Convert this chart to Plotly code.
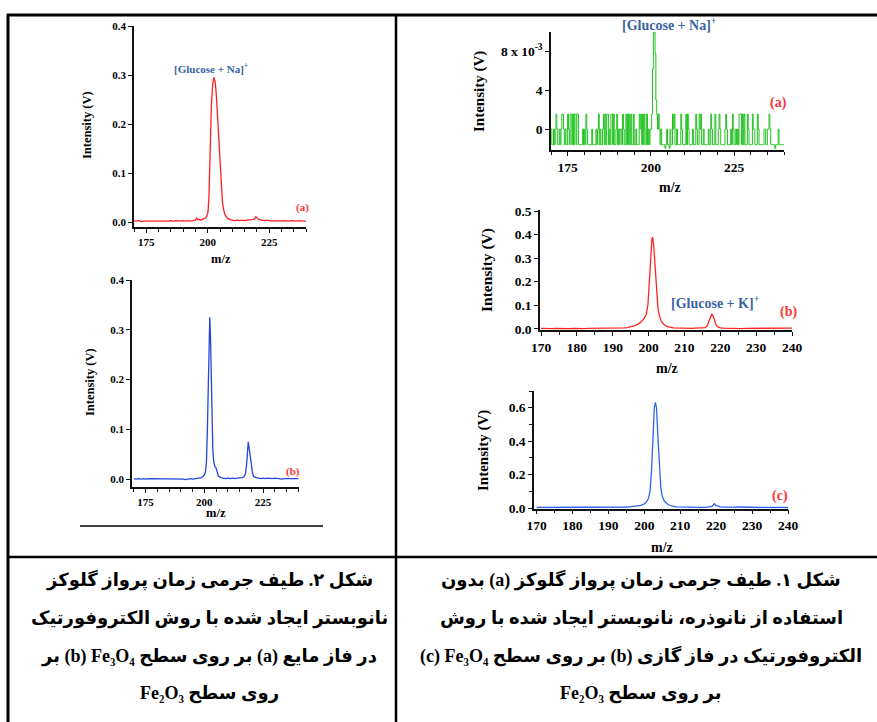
import plotly.graph_objects as go

W, H = 877, 722

# ---------------- data ----------------
# Fig.2 (a) left, red
mz_la = [170, 171, 172, 173, 174, 175, 176, 177, 178, 179, 180, 181, 182, 183, 184, 185, 186, 187, 188, 189,
         190, 191, 192, 193, 194, 195,
         195.5, 196, 196.5, 197, 198, 199,
         199.6, 200.1, 200.5, 201.0, 201.5, 202.0, 202.5, 202.8, 203.0, 203.5, 204.0, 204.5, 205.0, 205.5,
         206.0, 206.5, 207.0, 208.0, 209.0,
         210, 211, 212, 213, 214, 215, 216, 217, 218, 219,
         219.6, 220, 220.5,
         221, 222, 223, 224, 225, 226, 227, 228, 229, 230, 231, 232, 233, 234, 235, 236, 237, 238, 239, 240]
int_la = [0.003, 0.002, 0.003, 0.001, 0.002, 0.002, 0.001, 0.002, 0.001, 0.002, 0.001, 0.002, 0.002, 0.001,
          0.002, 0.003, 0.002, 0.003, 0.002, 0.002, 0.003, 0.002, 0.003, 0.002, 0.003, 0.004,
          0.008, 0.005, 0.006, 0.004, 0.006, 0.008,
          0.012, 0.02, 0.05, 0.15, 0.24, 0.28, 0.295, 0.29, 0.288, 0.26, 0.21, 0.165, 0.12, 0.07,
          0.04, 0.025, 0.015, 0.008, 0.005,
          0.004, 0.003, 0.004, 0.003, 0.004, 0.003, 0.004, 0.004, 0.005, 0.006,
          0.011, 0.009, 0.006,
          0.005, 0.004, 0.003, 0.004, 0.003, 0.002, 0.003, 0.002, 0.003, 0.002, 0.003, 0.002, 0.002, 0.003,
          0.002, 0.002, 0.003, 0.002, 0.002, 0.002]

# Fig.2 (b) left, blue
mz_lb = [170, 171, 172, 173, 174, 175, 176, 177, 178, 179, 180, 181, 182, 183, 184, 185, 186, 187, 188, 189,
         190, 191, 192, 193, 194, 195, 196, 197, 198,
         198.8, 199.5, 200.0, 200.5, 200.9, 201.3, 201.7, 202.0, 202.3, 202.6, 202.9, 203.2, 203.6, 204.0,
         204.5, 205.0, 205.5, 206.0, 207.0, 208.0,
         209, 210, 211, 212, 213, 214, 215, 216,
         216.8, 217.5, 218.0, 218.4, 218.7, 219.0, 219.3, 219.6, 220.0, 220.5, 221.0,
         222, 223, 224, 225, 226, 227, 228, 229, 230, 231, 232, 233, 234, 235, 236, 237, 238, 239, 240]
int_lb = [0.001, 0.0, 0.001, 0.0, 0.001, 0.0, 0.001, 0.001, 0.0, 0.001, 0.0, 0.001, 0.0, 0.0, 0.001, 0.0,
          0.001, 0.0, 0.001, 0.0, 0.001, 0.0, -0.001, 0.0, 0.001, 0.0, 0.001, 0.002, 0.002,
          0.003, 0.006, 0.008, 0.015, 0.035, 0.1, 0.2, 0.28, 0.325, 0.29, 0.2, 0.12, 0.06, 0.035,
          0.025, 0.022, 0.015, 0.006, 0.003, 0.002,
          0.001, 0.002, 0.001, 0.002, 0.001, 0.002, 0.002, 0.003,
          0.004, 0.01, 0.03, 0.065, 0.075, 0.065, 0.05, 0.048, 0.03, 0.012, 0.005,
          0.003, 0.002, 0.001, 0.002, 0.001, 0.002, 0.001, 0.001, 0.002, 0.001, 0.001, 0.0, 0.001, 0.001,
          0.0, 0.001, 0.0, 0.001, 0.001]

# Fig.1 (a) right, green: digitised levels, one code per 0.25 m/z from 170 (units of 1e-3 V)
green_start, green_step = 170.0, 0.25
green_codes = ("0dd0" "d0u0" "dd0d" "0uu0" "d0dd" "u0du" "udud" "uudu" "uddd" "dd0d"
               "0du0" "dddd" "d0dd" "dd0d" "0ud0" "dd0u" "dudu" "ud0d" "uudu" "dd0u"
               "d0d0" "0du0" "ddud" "udud" "uddu" "dd0d" "ddu0" "udud" "u0du" "d0d0"
               "0upp" "pppp" "0u0d" "0ddd" "dDd0" "ddD0" "ddu0" "udd0" "dddd" "u0dd"
               "ddud" "u0dd" "dd0d" "ddu0" "ddu0" "udd0" "dddd" "d0dd" "u0dd" "dudd"
               "d0u0" "dddd" "d0u0" "dddd" "0du0" "dd0d" "0duu" "udud" "uddd" "u0dd"
               "ddu0" "0ddd" "u0dd" "dddd" "00dd" "00u0" "dddd" "dDdd" "d0dd" "dddd"
               "d")
green_levels = {"0": 0.0, "u": 1.55, "d": -1.6, "D": -2.0}
green_peak = [6.2, 10.0, 10.0, 7.8, 3.0, 1.5]

# Fig.1 (b) right, red
mz_rb = [170, 171, 172, 173, 174, 175, 176, 177, 178, 179, 180, 181, 182, 183, 184, 185, 186, 187, 188, 189,
         190, 191, 192, 193,
         194, 195, 196, 197, 198, 198.8, 199.3, 199.8, 200.2, 200.6, 200.9, 201.1, 201.4, 201.8, 202.2, 202.6,
         203.0, 203.6, 204.5, 205.5, 207.0,
         208, 209, 210, 211, 212, 213, 214, 215,
         215.8, 216.3, 216.8, 217.2, 217.6, 218.0, 218.4, 218.8, 219.3, 220.0, 221.0,
         222, 223, 224, 225, 226, 227, 228, 229, 230, 231, 232, 233, 234, 235, 236, 237, 238, 239, 240]
int_rb = [0.002, 0.001, 0.002, 0.001, 0.002, 0.001, 0.002, 0.002, 0.001, 0.002, 0.001, 0.002, 0.001, 0.002,
          0.002, 0.001, 0.002, 0.002, 0.003, 0.002, 0.003, 0.003, 0.004, 0.004,
          0.005, 0.008, 0.012, 0.02, 0.03, 0.045, 0.06, 0.1, 0.18, 0.3, 0.38, 0.39, 0.36, 0.26, 0.16, 0.09,
          0.055, 0.03, 0.015, 0.008, 0.004,
          0.003, 0.003, 0.002, 0.003, 0.002, 0.003, 0.003, 0.004,
          0.005, 0.012, 0.03, 0.05, 0.062, 0.055, 0.035, 0.018, 0.008, 0.004, 0.003,
          0.002, 0.003, 0.002, 0.002, 0.001, 0.002, 0.002, 0.001, 0.002, 0.001, 0.002, 0.002, 0.001, 0.002,
          0.001, 0.002, 0.001, 0.002, 0.003]

# Fig.1 (c) right, blue
mz_rc = [170, 171, 172, 173, 174, 175, 176, 177, 178, 179, 180, 181, 182, 183, 184, 185, 186, 187, 188, 189,
         190, 191, 192, 193, 194,
         195, 196, 197, 198, 199, 200, 200.6, 201.1, 201.6, 202.0, 202.4, 202.8, 203.1, 203.4, 203.8, 204.2,
         204.6, 205.0, 205.6, 206.5, 207.5, 209.0,
         210, 211, 212, 213, 214, 215, 216, 217,
         218.0, 218.8, 219.2, 219.5, 219.9, 220.5, 221.2,
         222, 223, 224, 225, 226, 227, 228, 229, 230, 231, 232, 233, 234, 235, 236, 237, 238, 239, 240]
int_rc = [0.003, 0.003, 0.002, 0.003, 0.002, 0.003, 0.003, 0.002, 0.003, 0.003, 0.002, 0.003, 0.003, 0.003,
          0.004, 0.005, 0.004, 0.003, 0.003, 0.004, 0.003, 0.004, 0.004, 0.005, 0.005,
          0.006, 0.007, 0.009, 0.012, 0.016, 0.025, 0.035, 0.055, 0.1, 0.22, 0.42, 0.6, 0.632, 0.6, 0.42, 0.24,
          0.12, 0.07, 0.04, 0.022, 0.012, 0.007,
          0.006, 0.005, 0.004, 0.004, 0.004, 0.003, 0.004, 0.004,
          0.005, 0.01, 0.018, 0.025, 0.016, 0.01, 0.007,
          0.005, 0.004, 0.004, 0.005, 0.006, 0.005, 0.004, 0.004, 0.003, 0.004, 0.003, 0.003, 0.004, 0.003,
          0.003, 0.003, 0.002, 0.003, 0.003]

# captions (logical order, Persian)
caption_right = ["شکل ۱. طیف جرمی زمان پرواز گلوکز (a) بدون",
                 "استفاده از نانوذره، نانوبستر ایجاد شده با روش",
                 "الکتروفورتیک در فاز گازی (b) بر روی سطح Fe₃O₄\u200f (c)\u200f",
                 "بر روی سطح Fe₂O₃"]
caption_left = ["شکل ۲. طیف جرمی زمان پرواز گلوکز",
                "نانوبستر ایجاد شده با روش الکتروفورتیک",
                "در فاز مایع (a) بر روی سطح Fe₃O₄\u200f (b) بر",
                "روی سطح Fe₂O₃"]

# ---------------- decode green ----------------
mz_ra, int_ra = [], []
pk = iter(green_peak)
for i, c in enumerate(green_codes):
    mz_ra.append(green_start + green_step * i)
    int_ra.append(next(pk) if c == "p" else green_levels[c])

# ---------------- helpers ----------------
def px(x):
    return x / W

def py(y):
    return 1 - y / H

SERIF = "Liberation Serif"

def bold(size, color="black", family=SERIF):
    return dict(family=family, size=size, color=color, weight="bold")

fig = go.Figure()

panels = [
    dict(xd=(134, 306), yd=(26, 227), xr=[170, 240], yr=[-0.01, 0.4], x=mz_la, y=int_la, col="#ff1f1f",
         xdt=25, xminor=5, ydt=0.1, yminor=None, tfs=11, shape="linear", lw=1.3),
    dict(xd=(132, 299), yd=(280, 487), xr=[169.2, 240.3], yr=[-0.016, 0.4], x=mz_lb, y=int_lb, col="#2346dc",
         xdt=25, xminor=5, ydt=0.1, yminor=None, tfs=11, shape="linear", lw=1.3),
    dict(xd=(551, 784), yd=(32, 150), xr=[170, 240], yr=[-2.15, 10], x=mz_ra, y=int_ra, col="#22c322",
         xdt=25, xminor=5, ydt=None, yminor=None, tfs=13.5, shape="hv", lw=1.0),
    dict(xd=(540, 792), yd=(210, 330), xr=[169.7, 240], yr=[-0.005, 0.505], x=mz_rb, y=int_rb, col="#ff2424",
         xdt=10, xminor=5, ydt=0.1, yminor=None, tfs=13.5, shape="linear", lw=1.3),
    dict(xd=(534, 788), yd=(391, 508.5), xr=[169.3, 240], yr=[-0.003, 0.7], x=mz_rc, y=int_rc, col="#3163f5",
         xdt=10, xminor=5, ydt=0.2, yminor=0.1, tfs=13.5, shape="linear", lw=1.3),
]

layout_axes = {}
for i, p in enumerate(panels, start=1):
    sx = "" if i == 1 else str(i)
    fig.add_trace(go.Scatter(x=p["x"], y=p["y"], mode="lines", line=dict(color=p["col"], width=p["lw"], shape=p["shape"]),
                             xaxis="x" + sx, yaxis="y" + sx, showlegend=False, hoverinfo="skip"))
    xa = dict(domain=[px(p["xd"][0]), px(p["xd"][1])], range=p["xr"], anchor="y" + sx, automargin=False,
              showline=True, linecolor="#111", linewidth=1.5, ticks="outside", ticklen=4, tickwidth=1.3,
              tickcolor="#111", showgrid=False, zeroline=False, dtick=p["xdt"], tick0=0,
              tickfont=bold(p["tfs"]), fixedrange=True,
              minor=dict(dtick=p["xminor"], tick0=0, ticks="outside", ticklen=3, tickwidth=1.1, tickcolor="#111",
                         showgrid=False))
    ya = dict(domain=[py(p["yd"][1]), py(p["yd"][0])], range=p["yr"], anchor="x" + sx, automargin=False,
              showline=True, linecolor="#111", linewidth=1.5, ticks="outside", ticklen=4, tickwidth=1.3,
              tickcolor="#111", showgrid=False, zeroline=False, tickfont=bold(p["tfs"]), fixedrange=True)
    if p["ydt"] is not None:
        ya.update(dtick=p["ydt"], tick0=0, tickformat=".1f")
    else:
        ya.update(tickmode="array", tickvals=[0, 4, 8], ticktext=["0", "4", "8 x 10<sup>-3</sup>"])
    if p["yminor"]:
        ya["minor"] = dict(dtick=p["yminor"], tick0=0, ticks="outside", ticklen=3, tickwidth=1.1,
                           tickcolor="#111", showgrid=False)
    layout_axes["xaxis" + sx] = xa
    layout_axes["yaxis" + sx] = ya

fig.update_layout(template="none")
fig.update_layout(**layout_axes)

ann = []
def text(x, y, s, size, color="black", angle=0, family=SERIF):
    ann.append(dict(x=px(x), y=py(y), xref="paper", yref="paper", text=s, showarrow=False,
                    xanchor="center", yanchor="middle", textangle=angle, font=bold(size, color, family)))

# axis titles
text(87, 125, "Intensity (V)", 12.5, angle=-90)
text(221, 259, "m/z", 12.5)
text(90, 382, "Intensity (V)", 12.5, angle=-90)
text(216, 513, "m/z", 12.5)
text(479, 91, "Intensity (V)", 15, angle=-90)
text(670, 188, "m/z", 14)
text(487, 270, "Intensity (V)", 15.5, angle=-90)
text(667, 368, "m/z", 14)
text(483, 451, "Intensity (V)", 15, angle=-90)
text(662, 547, "m/z", 14)

# in-plot labels
BL = "#3b64a0"
RD = "#ff3333"
text(211, 68, "[Glucose + Na]<sup>+</sup>", 11, BL)
text(302, 207, "(a)", 11, RD)
text(293, 471, "(b)", 11, RD)
text(669, 24, "[Glucose + Na]<sup>+</sup>", 14, BL)
text(778, 103, "(a)", 14, RD)
text(715, 302, "[Glucose + K]<sup>+</sup>", 14, BL)
text(788, 312, "(b)", 14, RD)
text(780, 496, "(c)", 14, RD)

# captions
CAP = "Liberation Serif, DejaVu Sans"
for k, yy in enumerate([580, 618, 656, 693]):
    text(641, yy, "\u202b" + caption_right[k] + "\u202c", 18, family=CAP)
    text(209, yy, "\u202b" + caption_left[k] + "\u202c", 18, family=CAP)

shapes = []
def hline(y, x0, x1, w):
    shapes.append(dict(type="line", xref="paper", yref="paper", x0=px(x0), x1=px(x1), y0=py(y), y1=py(y),
                       line=dict(color="black", width=w)))
def vline(x, y0, y1, w):
    shapes.append(dict(type="line", xref="paper", yref="paper", x0=px(x), x1=px(x), y0=py(y0), y1=py(y1),
                       line=dict(color="black", width=w)))

hline(15, 7, 877, 3)
vline(8, 14, 722, 3)
vline(396, 14, 722, 2.5)
hline(557, 7, 877, 2.5)
hline(526, 80, 323, 1.5)

fig.update_layout(width=W, height=H, autosize=False, margin=dict(l=0, r=0, t=0, b=0, pad=0),
                  paper_bgcolor="white", plot_bgcolor="white", annotations=ann, shapes=shapes,
                  showlegend=False)

fig.write_html("out.html", config={"displayModeBar": False},
               post_script="document.body.style.margin='0';document.body.style.padding='0';"
                           "document.body.style.overflow='hidden';")
